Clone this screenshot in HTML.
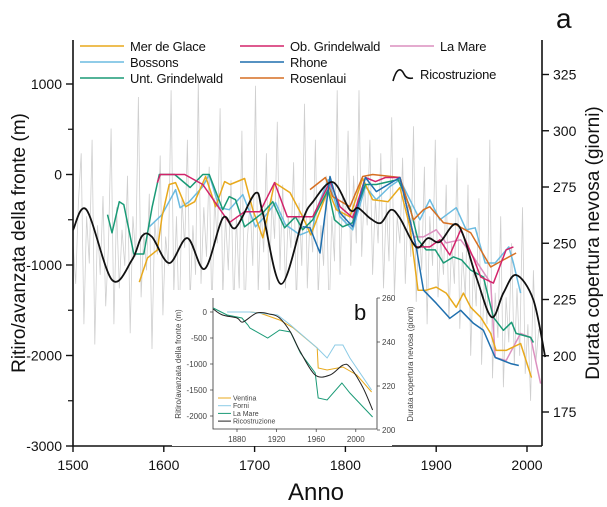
<!DOCTYPE html>
<html><head><meta charset="utf-8">
<style>
html,body{margin:0;padding:0;background:#fff;}
svg{display:block;font-family:"Liberation Sans",Arial,sans-serif;}
</style></head>
<body>
<svg id="chart" width="607" height="507" viewBox="0 0 607 507">
<g id="noise"></g>
<g id="series"></g>
<g id="axes"></g>
<g id="inset"></g>
<g id="legend"></g>
</svg>
<script>
// ---------- main data ----------
const noiseStartYear = 1500, noiseStep = 3;
const noiseDays = [250,232,268,290,214,262,241,296,205,258,236,271,222,248,301,214,266,230,256,240,
280,210,262,244,315,226,255,238,272,203,260,245,289,218,253,240,318,228,262,212,
270,248,296,224,258,236,322,232,266,244,284,218,270,250,310,226,262,238,278,220,
262,230,300,214,252,268,240,320,228,266,246,290,224,270,252,304,238,276,230,262,
248,286,222,268,240,312,230,262,246,296,226,258,240,280,216,262,242,318,236,272,
258,300,240,280,250,318,244,276,258,296,236,270,250,290,230,268,242,306,226,262,
250,288,232,268,244,302,224,260,238,284,214,262,240,296,226,252,236,276,216,250,
232,288,212,246,226,276,200,240,222,270,196,236,214,296,190,228,208,262,186,226,
206,250,196,230,200,266,192,214,180,238,198,212];

const mainYears = {};
const mainVals = {};
mainYears.unt = [1538,1543,1551,1556,1567,1578,1587,1595,1612,1629,1643,1650,1665,1672,1679,1689,1709,1720,1733,1745,1753,1764,1781,1788,1797,1808,1812,1822,1834,1858,1871,1880,1889,1899,1908,1919,1928,1938,1952,1963,1974,1983,1988,2004,2007];
mainVals.unt = [-444,-644,-300,-333,-878,-878,-367,0,0,-144,0,0,-389,-244,-278,-578,-422,-300,-589,-467,-611,-500,-167,-500,-578,-533,-389,-111,-111,-56,-356,-722,-833,-833,-978,-911,-944,-1056,-1133,-1578,-1722,-1633,-1756,-1800,-1856];
mainYears.mer = [1573,1582,1593,1598,1606,1613,1624,1634,1646,1657,1667,1673,1689,1698,1709,1722,1739,1753,1762,1781,1790,1805,1819,1830,1847,1860,1871,1880,1889,1900,1911,1922,1930,1938,1949,1960,1966,1977,1993,2005];
mainVals.mer = [-1189,-922,-833,-467,-111,-89,-356,-300,-22,-356,-78,-111,-44,-389,-700,-89,-200,-467,-667,-167,-389,-467,-44,-278,-300,-144,-578,-1278,-1278,-1244,-1311,-1467,-1311,-1467,-1578,-1756,-1944,-1944,-1867,-2244];
mainYears.bos = [1584,1598,1613,1618,1628,1643,1650,1661,1672,1687,1701,1711,1723,1734,1750,1764,1767,1781,1794,1808,1822,1834,1849,1860,1871,1882,1893,1904,1922,1933,1943,1954,1965,1980,1985,1993];
mainVals.bos = [-578,-444,-167,-367,-300,-133,0,-367,-389,-222,-578,-467,-311,-556,-667,-611,-422,-56,-467,-611,-133,-278,-133,-56,-278,-500,-278,-500,-367,-611,-589,-978,-978,-800,-978,-1311];
mainYears.ob = [1593,1596,1623,1643,1672,1689,1706,1722,1736,1761,1764,1783,1794,1808,1822,1833,1844,1860,1878,1893,1904,1915,1927,1941,1949,1963,1977,1985];
mainVals.ob = [-89,0,0,-111,-533,-411,-411,-89,-467,-467,-467,-78,-356,-478,-33,-78,-33,-33,-800,-800,-722,-889,-611,-922,-1133,-1200,-833,-800];
mainYears.rho = [1753,1761,1772,1783,1794,1808,1822,1834,1860,1878,1886,1900,1915,1927,1941,1952,1965,1982,1991];
mainVals.rho = [-578,-589,-867,-22,-422,-578,-33,-189,-33,-800,-1278,-1422,-1589,-1500,-1644,-1722,-2022,-2089,-2111];
mainYears.ros = [1761,1778,1786,1805,1819,1830,1860,1875,1886,1893,1908,1922,1938,1960,1974,1988];
mainVals.ros = [-167,-33,-244,-356,-22,0,-33,-500,-389,-356,-533,-556,-644,-1022,-944,-867];
mainYears.mare = [1875,1886,1900,1911,1927,1941,1960,1965,1977,1993,2004,2015];
mainVals.mare = [-689,-689,-611,-756,-722,-911,-1200,-2022,-2056,-1756,-1800,-2311];

const recYears = [1500,1515,1543,1565,1576,1587,1606,1626,1645,1665,1679,1701,1709,1729,1753,1764,1786,1805,1814,1827,1839,1850,1860,1878,1891,1904,1924,1944,1961,1974,1988,2007,2020];
const recDays = [255.9,264.8,233.7,242.6,253.2,252.8,241.2,252.3,238.6,261.2,256.8,272.3,263.4,231.9,260.3,268.3,277.2,264.8,265.7,261.2,259,264.8,261.2,248.3,252.3,250.6,258.1,235,217.2,227.9,235.9,224.8,199.4];

const leftTicks = [1000,0,-1000,-2000,-3000];
const leftMinor = [500,-500,-1500,-2500];
const rightTicks = [325,300,275,250,225,200,175];
const xTicks = [1500,1600,1700,1800,1900,2000];

// ---------- inset data ----------
const inVentinaYears = [1871,1893,1903,1923,1937,1961,1962,1971,1987,2001,2016];
const inVentinaVals = [0,0,-19,-154,-308,-692,-1077,-1115,-1058,-1212,-1538];
const inForniYears = [1870,1893,1921,1934,1961,1971,1979,1987,1994,2016];
const inForniVals = [0,0,-58,-250,-692,-885,-635,-635,-885,-1500];
const inMareYears = [1856,1870,1885,1891,1893,1911,1923,1934,1944,1959,1962,1971,1986,1994,2017];
const inMareVals = [77,-58,-115,-250,-308,-500,-346,-385,-788,-1173,-1654,-1692,-1365,-1558,-2019];
const inRecYears = [1856,1865,1880,1886,1900,1913,1923,1934,1944,1959,1974,1987,1994,2007,2017];
const inRecDays = [255,252.3,250.9,249.1,253.2,252.7,250.9,244.5,235.5,225,225,229.5,228.6,219.5,209.1];
const inLeftTicks = [0,-500,-1000,-1500,-2000];
const inRightTicks = [260,240,220,200];
const inXTicks = [1880,1920,1960,2000];

// ---------- scales ----------
const X = yr => 73 + (yr - 1500) * 0.908;
const YL = m => 174.5 - m * 0.0905;
const YR = d => 187 - (d - 275) * 2.25;
const IX = yr => 237 + (yr - 1880) * 0.99;
const IYL = m => 312 - m * 0.052;
const IYR = d => 298 + (260 - d) * 2.2;

const NS = "http://www.w3.org/2000/svg";
function mk(tag, attrs, parent) {
  const e = document.createElementNS(NS, tag);
  for (const k in attrs) e.setAttribute(k, attrs[k]);
  parent.appendChild(e);
  return e;
}
function poly(xs, ys) { return xs.map((x, i) => (i ? "L" : "M") + x.toFixed(1) + "," + ys[i].toFixed(1)).join(""); }
function smooth(xs, ys) {
  let d = "M" + xs[0].toFixed(1) + "," + ys[0].toFixed(1);
  for (let i = 0; i < xs.length - 1; i++) {
    const x0 = xs[Math.max(i - 1, 0)], y0 = ys[Math.max(i - 1, 0)];
    const x1 = xs[i], y1 = ys[i], x2 = xs[i + 1], y2 = ys[i + 1];
    const x3 = xs[Math.min(i + 2, xs.length - 1)], y3 = ys[Math.min(i + 2, xs.length - 1)];
    d += "C" + (x1 + (x2 - x0) / 6).toFixed(1) + "," + (y1 + (y2 - y0) / 6).toFixed(1) + " " +
      (x2 - (x3 - x1) / 6).toFixed(1) + "," + (y2 - (y3 - y1) / 6).toFixed(1) + " " + x2.toFixed(1) + "," + y2.toFixed(1);
  }
  return d;
}

// noise
const gN = document.getElementById("noise");
const nx = noiseDays.map((d, i) => X(noiseStartYear + i * noiseStep));
const ny = noiseDays.map(d => YR(d));
let el = mk("path", {d: poly(nx, ny), fill: "none", stroke: "#cfcfcf", "stroke-width": 0.8}, gN);



// glacier series
const colors = {mer:"#e8a91c", bos:"#6bbbe0", unt:"#1a9a76", ob:"#d3236a", rho:"#1f6fae", ros:"#d66f22", mare:"#dc8fbf"};
const gS = document.getElementById("series");
["mare","bos","mer","unt","ros","ob","rho"].forEach(k => {
  const p = mk("path", {d: poly(mainYears[k].map(X), mainVals[k].map(YL)), fill: "none", stroke: colors[k], "stroke-width": 1.5, "stroke-linejoin": "round"}, gS);
  
  
});
el = mk("path", {d: smooth(recYears.map(X), recDays.map(YR)), fill: "none", stroke: "#111", "stroke-width": 1.8}, gS);



// axes
const gA = document.getElementById("axes");
mk("path", {d: "M73,40V446H542M542,40V446", fill: "none", stroke: "#111", "stroke-width": 1.6}, gA);
leftTicks.forEach(v => {
  mk("line", {x1: 66, x2: 73, y1: YL(v), y2: YL(v), stroke: "#111", "stroke-width": 1.4}, gA);
  const t = mk("text", {x: 62, y: YL(v) + 5, "text-anchor": "end", "font-size": 14, fill: "#111"}, gA);
  t.textContent = v;
  
  
});
leftMinor.forEach(v => mk("line", {x1: 68, x2: 73, y1: YL(v), y2: YL(v), stroke: "#111", "stroke-width": 1.2}, gA));
rightTicks.forEach(v => {
  mk("line", {x1: 542, x2: 549, y1: YR(v), y2: YR(v), stroke: "#111", "stroke-width": 1.4}, gA);
  const t = mk("text", {x: 553, y: YR(v) + 5, "font-size": 14, fill: "#111"}, gA);
  t.textContent = v;
  
  
});
xTicks.forEach(v => {
  mk("line", {x1: X(v), x2: X(v), y1: 446, y2: 452, stroke: "#111", "stroke-width": 1.4}, gA);
  const t = mk("text", {x: X(v), y: 470, "text-anchor": "middle", "font-size": 14, fill: "#111"}, gA);
  t.textContent = v;
  
  
});
let t = mk("text", {x: 316, y: 500, "text-anchor": "middle", "font-size": 24, fill: "#111"}, gA);
t.textContent = "Anno";


t = mk("text", {x: 0, y: 0, transform: "translate(25,243) rotate(-90)", "text-anchor": "middle", "font-size": 19, fill: "#111"}, gA);
t.textContent = "Ritiro/avanzata della fronte (m)";


t = mk("text", {x: 0, y: 0, transform: "translate(599,243) rotate(-90)", "text-anchor": "middle", "font-size": 19, fill: "#111"}, gA);
t.textContent = "Durata copertura nevosa (giorni)";


t = mk("text", {x: 556, y: 28, "font-size": 28, fill: "#111"}, gA);
t.textContent = "a";



// inset
const gI = document.getElementById("inset");
mk("rect", {x: 172, y: 290, width: 220, height: 156, fill: "#fff"}, gI);
mk("path", {d: "M213,298V429H377V298", fill: "none", stroke: "#333", "stroke-width": 0.8}, gI);
const ins = [[inVentinaYears, inVentinaVals, "#e8a91c", "inset-ventina"], [inForniYears, inForniVals, "#8ccbe6", "inset-forni"], [inMareYears, inMareVals, "#1a9a76", "inset-la-mare"]];
ins.forEach(s => {
  const p = mk("path", {d: poly(s[0].map(IX), s[1].map(IYL)), fill: "none", stroke: s[2], "stroke-width": 1}, gI);
  
  
});
el = mk("path", {d: smooth(inRecYears.map(IX), inRecDays.map(IYR)), fill: "none", stroke: "#222", "stroke-width": 1}, gI);


inLeftTicks.forEach(v => {
  mk("line", {x1: 210, x2: 213, y1: IYL(v), y2: IYL(v), stroke: "#333", "stroke-width": 0.7}, gI);
  const tt = mk("text", {x: 207, y: IYL(v) + 3, "text-anchor": "end", "font-size": 8, fill: "#444"}, gI);
  tt.textContent = v;
  
  
});
inRightTicks.forEach(v => {
  mk("line", {x1: 377, x2: 380, y1: IYR(v), y2: IYR(v), stroke: "#333", "stroke-width": 0.7}, gI);
  const tt = mk("text", {x: 382, y: IYR(v) + 3, "font-size": 8, fill: "#444"}, gI);
  tt.textContent = v;
  
  
});
inXTicks.forEach(v => {
  mk("line", {x1: IX(v), x2: IX(v), y1: 429, y2: 432, stroke: "#333", "stroke-width": 0.7}, gI);
  const tt = mk("text", {x: IX(v), y: 442, "text-anchor": "middle", "font-size": 8, fill: "#444"}, gI);
  tt.textContent = v;
  
  
});
t = mk("text", {x: 0, y: 0, transform: "translate(181,364) rotate(-90)", "text-anchor": "middle", "font-size": 8, fill: "#444"}, gI);
t.textContent = "Ritiro/avanzata della fronte (m)";


t = mk("text", {x: 0, y: 0, transform: "translate(413,364) rotate(-90)", "text-anchor": "middle", "font-size": 8, fill: "#444"}, gI);
t.textContent = "Durata copertura nevosa (giorni)";


t = mk("text", {x: 354, y: 320, "font-size": 22, fill: "#111"}, gI);
t.textContent = "b";


const inLeg = [["Ventina", "#e8a91c"], ["Forni", "#8ccbe6"], ["La Mare", "#1a9a76"], ["Ricostruzione", "#222"]];
inLeg.forEach((l, i) => {
  const y = 398 + i * 7.7;
  mk("line", {x1: 218, x2: 231, y1: y, y2: y, stroke: l[1], "stroke-width": 1}, gI);
  const tt = mk("text", {x: 233, y: y + 2.5, "font-size": 7, fill: "#444"}, gI);
  tt.textContent = l[0];
  
  
});

// legend
const gL = document.getElementById("legend");
const leg = [["Mer de Glace", "mer", 80, 46], ["Bossons", "bos", 80, 62], ["Unt. Grindelwald", "unt", 80, 78],
  ["Ob. Grindelwald", "ob", 240, 46], ["Rhone", "rho", 240, 62], ["Rosenlaui", "ros", 240, 78], ["La Mare", "mare", 390, 46]];
leg.forEach(l => {
  mk("line", {x1: l[2], x2: l[2] + 44, y1: l[3], y2: l[3], stroke: colors[l[1]], "stroke-width": 1.6}, gL);
  const tt = mk("text", {x: l[2] + 50, y: l[3] + 5, "font-size": 13, "letter-spacing": "-0.2", fill: "#111"}, gL);
  tt.textContent = l[0];
  
  
});
mk("path", {d: "M393,81C396,70 400,66 404,74C406,78 409,79 413,78", fill: "none", stroke: "#111", "stroke-width": 1.6}, gL);
t = mk("text", {x: 420, y: 79, "font-size": 13, "letter-spacing": "-0.2", fill: "#111"}, gL);
t.textContent = "Ricostruzione";


</script>
</body></html>
